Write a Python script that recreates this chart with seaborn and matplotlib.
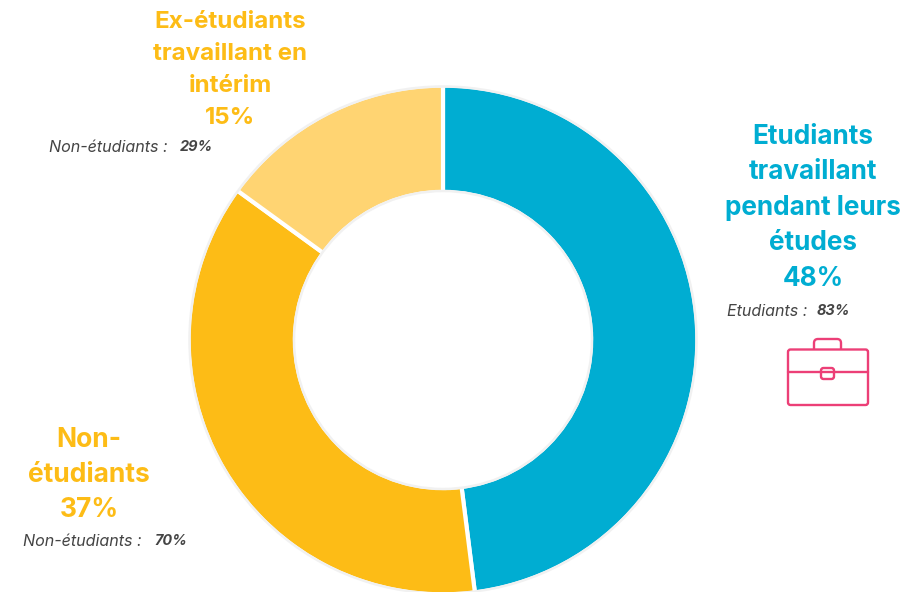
import matplotlib
matplotlib.use("Agg")
import matplotlib.pyplot as plt
from matplotlib.patches import FancyBboxPatch, Circle
import seaborn as sns

segments = ["Etudiants travaillant pendant leurs études", "Non-étudiants", "Ex-étudiants travaillant en intérim"]
shares = [48, 37, 15]
colours = ["#00ADD2", "#FDBC16", "#FFD472"]
sub_prefix = ["Etudiants : ", "Non-étudiants : ", "Non-étudiants : "]
sub_values = [83, 70, 29]

sns.set_theme(style="white")
plt.rcParams["font.family"] = ["DejaVu Sans"]
W, H = 922, 592
fig = plt.figure(figsize=(W / 100, H / 100), dpi=100, facecolor="white")

# Donut, placed by its centre and outer radius in pixels
cx, cy, r, inner = 443, 340, 254.5, 148
ax = fig.add_axes([(cx - r) / W, 1 - (cy + r) / H, 2 * r / W, 2 * r / H])
ax.pie(shares, colors=colours, startangle=90, counterclock=False, radius=1,
       wedgeprops=dict(width=(r - inner) / r, edgecolor="white", linewidth=3, clip_on=False))

# Pale halo along both rims of the ring
for rim in [(r - 1) / r, (inner + 1) / r]:
    ax.add_patch(Circle((0, 0), rim, fill=False, edgecolor="#F1F1F1", linewidth=1.8, clip_on=False))
ax.set_xlim(-1, 1)
ax.set_ylim(-1, 1)
ax.axis("off")

# Overlay in pixel coordinates for labels and the icon
ov = fig.add_axes([0, 0, 1, 1], facecolor="none")
ov.set_xlim(0, W)
ov.set_ylim(H, 0)
ov.axis("off")

head = dict(family="Inter", weight="bold", ha="center", va="center")
for cx_t, ys, lines, col, fs in [
    (813, [137, 172, 208, 243, 279],
     ["Etudiants", "travaillant", "pendant leurs", "études", f"{shares[0]}%"], colours[0], 18.8),
    (89, [440, 475, 510],
     ["Non-", "étudiants", f"{shares[1]}%"], colours[1], 19),
    (230, [22, 54, 86, 118],
     ["Ex-étudiants", "travaillant en", "intérim", f"{shares[2]}%"], colours[1], 17.4),
]:
    for y, line in zip(ys, lines):
        ov.text(cx_t, y, line, color=col, fontsize=fs, **head)

grey = "#444444"
for prefix, value, x0, x1, y in zip(sub_prefix, sub_values, [727, 23, 49], [817, 154, 180], [311, 541, 147]):
    ov.text(x0, y, prefix, family="Inter", style="italic", fontsize=11.6, color=grey, va="center", ha="left")
    ov.text(x1, y, f"{value}%", family="Inter", style="italic", weight="bold", fontsize=10.4, color=grey, va="center", ha="left")

# Briefcase icon
pink = "#EC3F77"
ov.add_patch(FancyBboxPatch((814, 339), 27, 16, boxstyle="round,pad=0,rounding_size=4",
                            fill=False, edgecolor=pink, linewidth=1.7))
ov.add_patch(FancyBboxPatch((788, 349.5), 80, 55.5, boxstyle="round,pad=0,rounding_size=2.5",
                            fill=True, facecolor="white", edgecolor=pink, linewidth=1.7))
ov.plot([788, 868], [371.5, 371.5], color=pink, lw=1.7)
ov.add_patch(FancyBboxPatch((821, 368), 13, 11, boxstyle="round,pad=0,rounding_size=2.5",
                            fill=True, facecolor="white", edgecolor=pink, linewidth=1.7))

fig.savefig("out.png", dpi=100)
